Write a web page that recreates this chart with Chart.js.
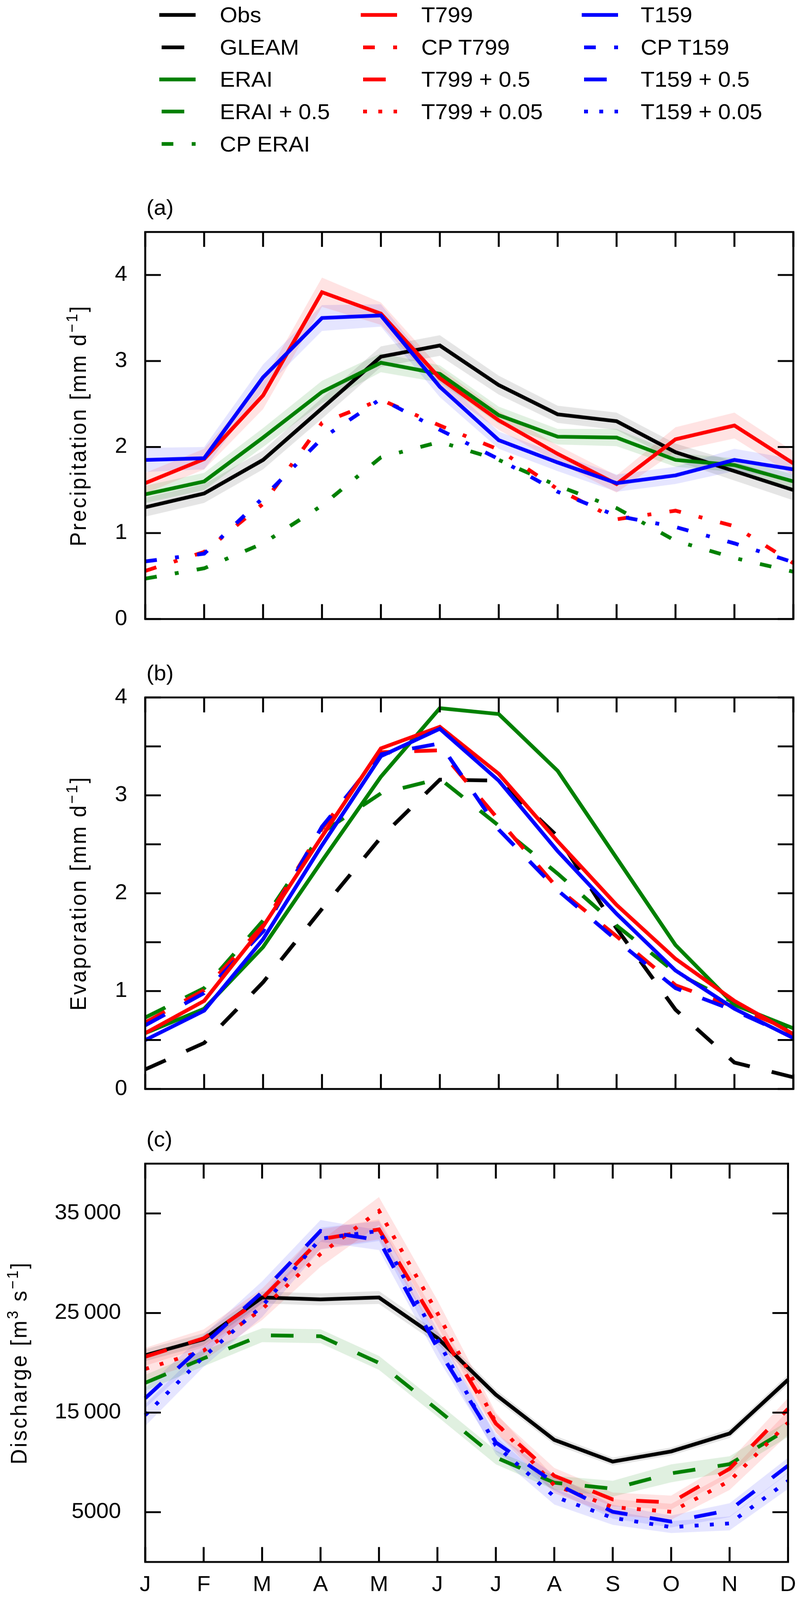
<!DOCTYPE html>
<html>
<head>
<meta charset="utf-8">
<script src="https://cdn.jsdelivr.net/npm/chart.js@4.4.1/dist/chart.umd.min.js"></script>
<style>
  html, body { margin: 0; padding: 0; background: #fff; overflow: hidden; }
  body { font-family: "Liberation Sans", Arial, sans-serif; }
  #page { position: relative; width: 2067px; height: 4290px; transform-origin: 0 0; }
  .panel { position: absolute; left: 0; width: 2067px; }
  .lg { position: absolute; height: 70px; line-height: 70px; font-size: 58px; white-space: nowrap; color: #000; }
  .sample { position: absolute; }
</style>
</head>
<body>
<div id="page">
  <div id="legend"></div>
  <div class="panel" style="top:440px;height:1300px"><canvas id="precip"></canvas></div>
  <div class="panel" style="top:1740px;height:1260px"><canvas id="evap"></canvas></div>
  <div class="panel" style="top:3000px;height:1290px"><canvas id="discharge"></canvas></div>
</div>
<script>
// months on the x axis
const months = ['J', 'F', 'M', 'A', 'M', 'J', 'J', 'A', 'S', 'O', 'N', 'D'];

// (a) precipitation [mm/d]
const obsP     = [1.30, 1.46, 1.85, 2.45, 3.05, 3.18, 2.72, 2.38, 2.30, 1.94, 1.72, 1.50];
const eraiP    = [1.45, 1.60, 2.11, 2.64, 2.98, 2.85, 2.37, 2.12, 2.11, 1.85, 1.79, 1.60];
const t799P    = [1.58, 1.86, 2.60, 3.80, 3.55, 2.80, 2.31, 1.92, 1.57, 2.09, 2.25, 1.81];
const t159P    = [1.85, 1.87, 2.81, 3.50, 3.53, 2.70, 2.08, 1.82, 1.58, 1.67, 1.85, 1.74];
const cpT799P  = [0.56, 0.78, 1.34, 2.28, 2.55, 2.25, 1.97, 1.51, 1.16, 1.26, 1.08, 0.65];
const cpT159P  = [0.67, 0.76, 1.41, 2.10, 2.56, 2.20, 1.86, 1.48, 1.20, 1.07, 0.88, 0.66];
const cpEraiP  = [0.47, 0.59, 0.88, 1.32, 1.88, 2.06, 1.85, 1.55, 1.29, 0.91, 0.71, 0.55];
// half widths of the shaded ranges in (a)
const obsSpreadP  = [0.11, 0.11, 0.11, 0.12, 0.12, 0.12, 0.11, 0.10, 0.10, 0.10, 0.11, 0.12];
const eraiSpreadP = [0.10, 0.10, 0.11, 0.13, 0.11, 0.10, 0.10, 0.09, 0.10, 0.08, 0.08, 0.08];
const t799SpreadP = [0.12, 0.12, 0.16, 0.17, 0.13, 0.12, 0.11, 0.10, 0.10, 0.14, 0.15, 0.14];
const t159SpreadP = [0.14, 0.13, 0.15, 0.15, 0.13, 0.12, 0.10, 0.10, 0.10, 0.10, 0.13, 0.12];
const precipTicks = [0, 1, 2, 3, 4];
const precipTickLabels = ['0', '1', '2', '3', '4'];

// (b) evaporation [mm/d]
const gleamE  = [0.20, 0.47, 1.09, 1.84, 2.57, 3.16, 3.15, 2.58, 1.64, 0.81, 0.27, 0.12];
const eraiE   = [0.57, 0.82, 1.45, 2.33, 3.19, 3.89, 3.83, 3.25, 2.36, 1.47, 0.86, 0.62];
const t799E   = [0.57, 0.90, 1.66, 2.58, 3.48, 3.70, 3.22, 2.53, 1.88, 1.33, 0.90, 0.56];
const t159E   = [0.50, 0.80, 1.53, 2.49, 3.40, 3.68, 3.15, 2.43, 1.79, 1.21, 0.82, 0.52];
const eraiE05 = [0.73, 1.03, 1.72, 2.62, 3.02, 3.17, 2.69, 2.20, 1.67, 1.19, 0.88, 0.60];
const t799E05 = [0.68, 1.01, 1.67, 2.66, 3.44, 3.46, 2.75, 2.05, 1.56, 1.06, 0.84, 0.59];
const t159E05 = [0.65, 0.98, 1.61, 2.68, 3.42, 3.53, 2.65, 2.03, 1.52, 1.03, 0.80, 0.53];
const evapTicks = [0, 0.5, 1, 1.5, 2, 2.5, 3, 3.5, 4];
const evapTickLabels = ['0', '', '1', '', '2', '', '3', '', '4'];

// (c) discharge [m3/s]
const obsQ      = [20760, 22370, 26560, 26370, 26560, 22500, 16800, 12260, 10080, 11100, 12900, 18300];
const eraiQ05   = [17990, 20450, 22770, 22670, 19990, 15300, 10500, 7960, 7360, 8900, 9820, 13360];
const t799Q05   = [20610, 22460, 26460, 32410, 33400, 23600, 13900, 8650, 6280, 5970, 9360, 15370];
const t799Q005  = [19380, 21230, 25390, 30940, 35250, 25000, 14000, 7700, 5510, 5040, 8130, 13980];
const t159Q05   = [16450, 21840, 27080, 33240, 32320, 21500, 12000, 7960, 5040, 4060, 5200, 9670];
const t159Q005  = [14750, 20610, 25690, 32470, 33240, 22300, 11700, 6570, 4430, 3500, 3870, 8130];
const obsSpreadQ     = [600, 600, 600, 600, 650, 600, 500, 450, 400, 400, 450, 500];
const eraiSpreadQ    = [800, 800, 700, 700, 700, 700, 700, 700, 800, 900, 800, 800];
const t799SpreadQ05  = [900, 900, 1000, 1000, 1000, 1000, 900, 800, 700, 700, 800, 1100];
const t799SpreadQ005 = [1100, 1000, 1100, 1300, 1400, 1300, 1000, 800, 800, 800, 900, 1200];
const t159SpreadQ05  = [1000, 1000, 1100, 1100, 1000, 1000, 900, 800, 700, 600, 700, 800];
const t159SpreadQ005 = [1100, 1000, 1100, 1100, 1000, 1000, 900, 800, 700, 600, 700, 800];
const dischargeTicks = [5000, 15000, 25000, 35000];
const dischargeTickLabels = ['5000', '15\u2009000', '25\u2009000', '35\u2009000'];

const BLACK = '#000000', GREEN = '#008000', RED = '#ff0000', BLUE = '#0000ff';
const DASH = { solid: [], dashed: [58, 58], dashdot: [30, 47, 10, 47], dotted: [10, 29] };
const FONT = '"Liberation Sans", Arial, sans-serif';

// the window shows less than 4290 px in height, so squeeze the figure to fit
const fit = Math.min(1, window.innerHeight / 4290);
document.getElementById('page').style.transform = 'scaleY(' + fit + ')';

// legend, three columns like the original
const legendCols = [
  [['Obs', BLACK, 'solid'], ['GLEAM', BLACK, 'dashed'], ['ERAI', GREEN, 'solid'], ['ERAI + 0.5', GREEN, 'dashed'], ['CP ERAI', GREEN, 'dashdot']],
  [['T799', RED, 'solid'], ['CP T799', RED, 'dashdot'], ['T799 + 0.5', RED, 'dashed'], ['T799 + 0.05', RED, 'dotted']],
  [['T159', BLUE, 'solid'], ['CP T159', BLUE, 'dashdot'], ['T159 + 0.5', BLUE, 'dashed'], ['T159 + 0.05', BLUE, 'dotted']]
];
const lineX = [408, 924, 1490], textX = [563, 1079, 1641], rowY = [40, 127, 213, 299, 386];
const legend = document.getElementById('legend');
legendCols.forEach((col, c) => {
  col.forEach(([name, color, style], r) => {
    const dash = DASH[style].length ? DASH[style].join(' ') : 'none';
    const off = style === 'solid' ? 0 : -6;
    legend.insertAdjacentHTML('beforeend',
      `<svg class="sample" width="93" height="20" style="left:${lineX[c]}px;top:${rowY[r] - 10}px">` +
      `<line x1="0" y1="10" x2="93" y2="10" stroke="${color}" stroke-width="10" stroke-dasharray="${dash}" stroke-dashoffset="${off}"/></svg>` +
      `<div class="lg" style="left:${textX[c]}px;top:${rowY[r] - 35}px">${name}</div>`);
  });
});

function line(label, data, color, style, order) {
  return {
    label, data, borderColor: color, backgroundColor: color, borderWidth: 10,
    borderDash: DASH[style], borderCapStyle: 'butt', pointRadius: 0,
    fill: false, tension: 0, order
  };
}
function band(center, spread, color) {
  return [
    { data: center.map((v, i) => v - spread[i]), borderWidth: 0, pointRadius: 0, fill: false, order: 50 },
    { data: center.map((v, i) => v + spread[i]), borderWidth: 0, pointRadius: 0, fill: '-1', backgroundColor: color, order: 50 }
  ];
}

// frame, inward ticks, panel letter and y title
const framePlugin = {
  id: 'frame',
  afterDraw(chart, args, opts) {
    const { ctx, chartArea: a, scales: { x, y } } = chart;
    ctx.save();
    ctx.strokeStyle = '#000';
    ctx.lineWidth = 5;
    ctx.beginPath();
    y.ticks.forEach(t => {
      const py = y.getPixelForValue(t.value);
      ctx.moveTo(a.left, py); ctx.lineTo(a.left + 40, py);
      ctx.moveTo(a.right, py); ctx.lineTo(a.right - 40, py);
    });
    months.forEach((m, i) => {
      const px = x.getPixelForValue(i);
      ctx.moveTo(px, a.top); ctx.lineTo(px, a.top + 40);
      ctx.moveTo(px, a.bottom); ctx.lineTo(px, a.bottom - 40);
    });
    ctx.stroke();
    ctx.strokeRect(a.left, a.top, a.right - a.left, a.bottom - a.top);

    ctx.fillStyle = '#000';
    ctx.font = '57px ' + FONT;
    ctx.textAlign = 'left';
    ctx.textBaseline = 'middle';
    ctx.fillText(opts.label, a.left + 3, a.top - 62);

    ctx.translate(opts.titleX, (a.top + a.bottom) / 2);
    ctx.rotate(-Math.PI / 2);
    ctx.textBaseline = 'alphabetic';
    ctx.letterSpacing = '4.5px';
    const fonts = opts.title.map(p => (p[1] ? '40px ' : '57px ') + FONT);
    const widths = opts.title.map((p, i) => { ctx.font = fonts[i]; return ctx.measureText(p[0]).width; });
    let xpos = -widths.reduce((s, w) => s + w, 0) / 2;
    opts.title.forEach((p, i) => {
      ctx.font = fonts[i];
      ctx.fillText(p[0], xpos, p[1] ? -22 : 0);
      xpos += widths[i];
    });
    ctx.restore();
  }
};

function options(cfg) {
  return {
    responsive: true,
    maintainAspectRatio: false,
    animation: false,
    events: [],
    devicePixelRatio: 1,
    layout: { padding: { left: 0, right: 35, top: cfg.padTop, bottom: cfg.padBottom } },
    plugins: {
      legend: { display: false },
      tooltip: { enabled: false },
      frame: { label: cfg.label, title: cfg.title, titleX: cfg.titleX }
    },
    scales: {
      x: {
        grid: { display: false, drawTicks: false },
        border: { display: false },
        ticks: {
          display: cfg.showX, color: '#000', padding: 28, maxRotation: 0, autoSkip: false,
          font: { size: 57, family: FONT }
        },
        afterFit: s => { s.height = cfg.xHeight; }
      },
      y: {
        min: cfg.min, max: cfg.max,
        grid: { display: false, drawTicks: false },
        border: { display: false },
        afterBuildTicks: s => { s.ticks = cfg.ticks.map(v => ({ value: v })); },
        ticks: {
          color: '#000', padding: cfg.tickPad,
          font: { size: 57, family: FONT },
          callback: (v, i) => cfg.tickLabels[i]
        },
        afterFit: s => { s.width = 372; }
      }
    }
  };
}

new Chart(document.getElementById('precip'), {
  type: 'line',
  data: {
    labels: months,
    datasets: [
      ...band(obsP, obsSpreadP, 'rgba(0,0,0,0.10)'),
      ...band(eraiP, eraiSpreadP, 'rgba(0,128,0,0.12)'),
      ...band(t799P, t799SpreadP, 'rgba(255,0,0,0.11)'),
      ...band(t159P, t159SpreadP, 'rgba(0,0,255,0.10)'),
      line('CP ERAI', cpEraiP, GREEN, 'dashdot', 7),
      line('CP T799', cpT799P, RED, 'dashdot', 6),
      line('CP T159', cpT159P, BLUE, 'dashdot', 5),
      line('Obs', obsP, BLACK, 'solid', 4),
      line('ERAI', eraiP, GREEN, 'solid', 3),
      line('T799', t799P, RED, 'solid', 2),
      line('T159', t159P, BLUE, 'solid', 1)
    ]
  },
  options: options({
    label: '(a)', padTop: 182, padBottom: 50, xHeight: 0, showX: false,
    min: 0, max: 4.5, ticks: precipTicks, tickLabels: precipTickLabels, tickPad: 46,
    titleX: 220, title: [['Precipitation [mm d', false], ['\u22121', true], [']', false]]
  }),
  plugins: [framePlugin]
});

new Chart(document.getElementById('evap'), {
  type: 'line',
  data: {
    labels: months,
    datasets: [
      line('GLEAM', gleamE, BLACK, 'dashed', 8),
      line('ERAI + 0.5', eraiE05, GREEN, 'dashed', 7),
      line('T799 + 0.5', t799E05, RED, 'dashed', 6),
      line('T159 + 0.5', t159E05, BLUE, 'dashed', 5),
      line('ERAI', eraiE, GREEN, 'solid', 3),
      line('T799', t799E, RED, 'solid', 2),
      line('T159', t159E, BLUE, 'solid', 1)
    ]
  },
  options: options({
    label: '(b)', padTop: 130, padBottom: 62, xHeight: 0, showX: false,
    min: 0, max: 4, ticks: evapTicks, tickLabels: evapTickLabels, tickPad: 46,
    titleX: 220, title: [['Evaporation [mm d', false], ['\u22121', true], [']', false]]
  }),
  plugins: [framePlugin]
});

new Chart(document.getElementById('discharge'), {
  type: 'line',
  data: {
    labels: months,
    datasets: [
      ...band(obsQ, obsSpreadQ, 'rgba(0,0,0,0.10)'),
      ...band(eraiQ05, eraiSpreadQ, 'rgba(0,128,0,0.12)'),
      ...band(t799Q05, t799SpreadQ05, 'rgba(255,0,0,0.11)'),
      ...band(t799Q005, t799SpreadQ005, 'rgba(255,0,0,0.11)'),
      ...band(t159Q05, t159SpreadQ05, 'rgba(0,0,255,0.10)'),
      ...band(t159Q005, t159SpreadQ005, 'rgba(0,0,255,0.10)'),
      line('Obs', obsQ, BLACK, 'solid', 6),
      line('ERAI + 0.5', eraiQ05, GREEN, 'dashed', 5),
      line('T799 + 0.05', t799Q005, RED, 'dotted', 4),
      line('T799 + 0.5', t799Q05, RED, 'dashed', 3),
      line('T159 + 0.05', t159Q005, BLUE, 'dotted', 2),
      line('T159 + 0.5', t159Q05, BLUE, 'dashed', 1)
    ]
  },
  options: options({
    label: '(c)', padTop: 120, padBottom: 0, xHeight: 102, showX: true,
    min: 0, max: 40000, ticks: dischargeTicks, tickLabels: dischargeTickLabels, tickPad: 62,
    titleX: 68, title: [['Discharge [m', false], ['3', true], [' s', false], ['\u22121', true], [']', false]]
  }),
  plugins: [framePlugin]
});
</script>
</body>
</html>
